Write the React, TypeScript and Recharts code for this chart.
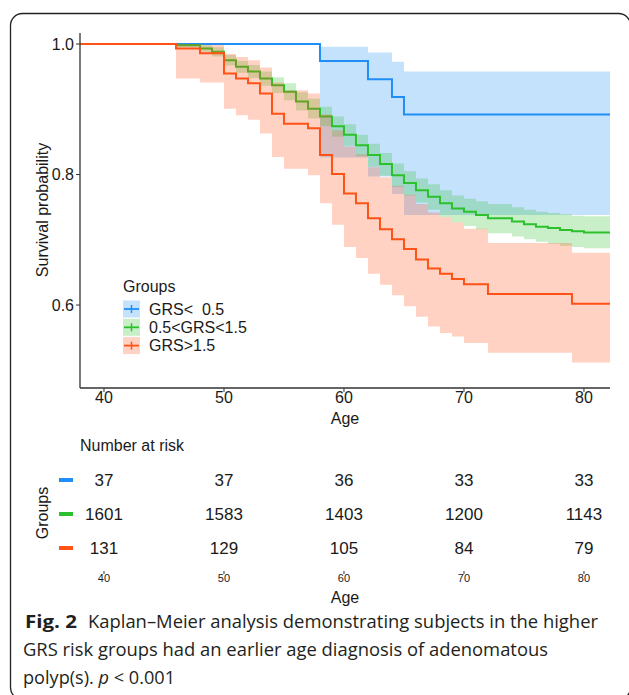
import React from 'react';
import { ComposedChart, Line, Area, Scatter, XAxis, YAxis } from 'recharts';

const GROUPS = ['GRS<  0.5', '0.5<GRS<1.5', 'GRS>1.5'];
const COLORS = ['#1f8ff7', '#2cc12c', '#ff5217'];

// Kaplan-Meier steps per group (age at which each step starts)
const blueAge = [38, 58, 62, 64, 65, 82.17];
const blueSurv = [1.0, 0.974, 0.946, 0.919, 0.892, 0.892];
const blueLow = [1.0, 0.826, 0.797, 0.77, 0.738, 0.738];
const blueHigh = [1.0, 0.996, 0.987, 0.973, 0.958, 0.958];

const greenAge = [38, 46, 48, 49, 50, 51, 52, 53, 54, 55, 56, 57, 58, 59, 60, 61, 62, 63, 64, 65, 66, 67, 68, 69, 70, 71, 72, 74, 75, 76, 77, 78, 79, 80, 82.17];
const greenSurv = [1.0, 0.998, 0.993, 0.988, 0.975, 0.965, 0.958, 0.947, 0.937, 0.927, 0.912, 0.901, 0.889, 0.874, 0.861, 0.845, 0.83, 0.816, 0.799, 0.787, 0.776, 0.766, 0.756, 0.748, 0.743, 0.738, 0.733, 0.728, 0.724, 0.72, 0.718, 0.715, 0.713, 0.711, 0.711];
const greenLow = [1.0, 0.995, 0.988, 0.981, 0.967, 0.956, 0.948, 0.936, 0.925, 0.914, 0.898, 0.886, 0.874, 0.858, 0.844, 0.828, 0.812, 0.798, 0.781, 0.768, 0.757, 0.746, 0.735, 0.727, 0.721, 0.716, 0.71, 0.705, 0.701, 0.697, 0.694, 0.691, 0.689, 0.687, 0.687];
const greenHigh = [1.0, 1.0, 0.998, 0.995, 0.983, 0.974, 0.968, 0.958, 0.949, 0.94, 0.926, 0.916, 0.904, 0.889, 0.877, 0.861, 0.847, 0.833, 0.817, 0.805, 0.794, 0.785, 0.776, 0.768, 0.763, 0.759, 0.755, 0.75, 0.746, 0.743, 0.741, 0.739, 0.737, 0.736, 0.736];

const redAge = [38, 46, 48, 50, 51, 52, 53, 54, 55, 57, 58, 59, 60, 61, 62, 63, 64, 65, 66, 67, 68, 69, 70, 72, 79, 82.17];
const redSurv = [1.0, 0.993, 0.986, 0.955, 0.947, 0.94, 0.924, 0.893, 0.878, 0.871, 0.83, 0.801, 0.771, 0.756, 0.733, 0.716, 0.701, 0.686, 0.67, 0.656, 0.648, 0.64, 0.632, 0.617, 0.602, 0.602];
const redLow = [1.0, 0.947, 0.941, 0.901, 0.891, 0.884, 0.863, 0.827, 0.809, 0.799, 0.756, 0.723, 0.689, 0.672, 0.648, 0.631, 0.615, 0.598, 0.582, 0.567, 0.557, 0.552, 0.542, 0.527, 0.512, 0.512];
const redHigh = [1.0, 1.0, 0.999, 0.985, 0.98, 0.975, 0.964, 0.941, 0.929, 0.924, 0.892, 0.868, 0.843, 0.831, 0.811, 0.796, 0.783, 0.769, 0.755, 0.742, 0.735, 0.727, 0.717, 0.695, 0.68, 0.68];

// number at risk table
const riskAges = [40, 50, 60, 70, 80];
const blueRisk = [37, 37, 36, 33, 33];
const greenRisk = [1601, 1583, 1403, 1200, 1143];
const redRisk = [131, 129, 105, 84, 79];

const xTicks = [40, 50, 60, 70, 80];
const yTicks = [0.6, 0.8, 1.0];

const build = (age: number[], s: number[], lo: number[], hi: number[]) =>
  age.map((a, i) => ({ age: a, s: s[i], band: [lo[i], hi[i]] }));

const curves = [
  build(blueAge, blueSurv, blueLow, blueHigh),
  build(greenAge, greenSurv, greenLow, greenHigh),
  build(redAge, redSurv, redLow, redHigh),
];

const riskRows = [blueRisk, greenRisk, redRisk].map((vals, r) =>
  riskAges.map((a, i) => ({ age: a, row: r + 1, n: vals[i] }))
);

const TEXT = '#1a1a1a';
const FONT = '"Liberation Sans", Arial, sans-serif';

const KmChart = () => (
  <ComposedChart width={629} height={430} margin={{ top: 33, right: 19, bottom: 0, left: 0 }}>
    <XAxis
      type="number"
      dataKey="age"
      domain={[38, 82.17]}
      ticks={xTicks}
      allowDataOverflow
      height={42}
      tickSize={4}
      tickMargin={0}
      axisLine={{ stroke: '#333', strokeWidth: 1.3 }}
      tickLine={{ stroke: '#333' }}
      tick={{ fill: TEXT, fontSize: 16 }}
      label={{ value: 'Age', position: 'insideBottom', offset: 6, fill: TEXT, fontSize: 16 }}
    />
    <YAxis
      type="number"
      domain={[0.4729, 1.0169]}
      ticks={yTicks}
      allowDataOverflow
      width={80}
      tickSize={4}
      tickMargin={2}
      axisLine={{ stroke: '#333', strokeWidth: 1.3 }}
      tickLine={{ stroke: '#333' }}
      tick={{ fill: TEXT, fontSize: 16 }}
      tickFormatter={(v: number) => v.toFixed(1)}
    />
    {/* each group's ribbon is drawn over the previous group's line, as in the original */}
    {curves.map((d, i) => [
      <Area
        key={`band-${i}`}
        data={d}
        dataKey="band"
        type="stepAfter"
        stroke="none"
        fill={COLORS[i]}
        fillOpacity={0.26}
        zIndex={300 + i * 10}
        isAnimationActive={false}
      />,
      <Line
        key={`line-${i}`}
        data={d}
        dataKey="s"
        type="stepAfter"
        stroke={COLORS[i]}
        strokeWidth={2}
        dot={false}
        activeDot={false}
        zIndex={305 + i * 10}
        isAnimationActive={false}
      />,
    ])}
  </ComposedChart>
);

const RiskDash = (p: any) => (
  <rect x={59} y={p.y - 2} width={14} height={4} fill={COLORS[p.payload.value - 1]} />
);

const RiskNumber = (p: any) => (
  <text x={p.cx} y={p.cy} textAnchor="middle" dominantBaseline="central" fontSize={17} fill={TEXT}>
    {p.payload.n}
  </text>
);

const RiskTable = () => (
  <ComposedChart width={629} height={180} margin={{ top: 16, right: 19, bottom: 0, left: 0 }}>
    <XAxis
      type="number"
      dataKey="age"
      domain={[38, 82.17]}
      ticks={riskAges}
      height={39}
      axisLine={false}
      tickSize={3}
      tickMargin={0}
      tickLine={{ stroke: '#333' }}
      tick={{ fill: TEXT, fontSize: 11 }}
      label={{ value: 'Age', position: 'insideBottom', offset: 7, fill: TEXT, fontSize: 16 }}
    />
    <YAxis
      type="number"
      dataKey="row"
      domain={[0, 3.676]}
      reversed
      ticks={[1, 2, 3]}
      width={80}
      axisLine={false}
      tickLine={false}
      tick={<RiskDash />}
    />
    {riskRows.map((d, i) => (
      <Scatter key={i} data={d} shape={<RiskNumber />} isAnimationActive={false} />
    ))}
  </ComposedChart>
);

const Overlay = () => (
  <svg width={629} height={695} style={{ position: 'absolute', left: 0, top: 0, pointerEvents: 'none' }}>
    <rect x={10.5} y={13.5} width={620} height={686} rx={12} fill="none" stroke="#222" strokeWidth={1.3} />
    <text x={42} y={210} transform="rotate(-90 42 210)" textAnchor="middle" dominantBaseline="central" fontSize={16} fill={TEXT}>
      Survival probability
    </text>
    {/* legend */}
    <text x={123} y={286} dominantBaseline="central" fontSize={16} fill={TEXT}>Groups</text>
    {GROUPS.map((g, i) => {
      const cy = 309 + i * 18.3;
      return (
        <g key={g}>
          <rect x={123} y={cy - 8.5} width={17} height={17} fill={COLORS[i]} fillOpacity={0.26} />
          <line x1={124} x2={139} y1={cy} y2={cy} stroke={COLORS[i]} strokeWidth={1.8} />
          <line x1={131.5} x2={131.5} y1={cy - 4} y2={cy + 4} stroke={COLORS[i]} strokeWidth={1.5} />
          <text x={149} y={cy} dominantBaseline="central" fontSize={16} fill={TEXT} style={{ whiteSpace: 'pre' }}>
            {g}
          </text>
        </g>
      );
    })}
    <text x={80} y={445} dominantBaseline="central" fontSize={16} fill={TEXT}>Number at risk</text>
    <text x={42} y={513} transform="rotate(-90 42 513)" textAnchor="middle" dominantBaseline="central" fontSize={16} fill={TEXT}>
      Groups
    </text>
    {/* caption */}
    <g fontFamily='"Open Sans", "Noto Sans", sans-serif' fontSize={18} fill="#231f20">
      <text x={25} y={628} fontWeight={700} textLength={52} lengthAdjust="spacingAndGlyphs">Fig. 2</text>
      <text x={88} y={628} textLength={510} lengthAdjust="spacingAndGlyphs">Kaplan–Meier analysis demonstrating subjects in the higher</text>
      <text x={23} y={656} textLength={525} lengthAdjust="spacingAndGlyphs">GRS risk groups had an earlier age diagnosis of adenomatous</text>
      <text x={23} y={684} textLength={152} lengthAdjust="spacingAndGlyphs">
        polyp(s). <tspan fontStyle="italic">p</tspan> &lt; 0.001
      </text>
    </g>
  </svg>
);

export default function App() {
  return (
    <div
      style={{
        position: 'absolute',
        left: 0,
        top: 0,
        width: 629,
        height: 695,
        overflow: 'hidden',
        background: '#fff',
        fontFamily: FONT,
      }}
    >
      <div style={{ position: 'absolute', left: 0, top: 0 }}>
        <KmChart />
      </div>
      <div style={{ position: 'absolute', left: 0, top: 430 }}>
        <RiskTable />
      </div>
      <Overlay />
    </div>
  );
}
